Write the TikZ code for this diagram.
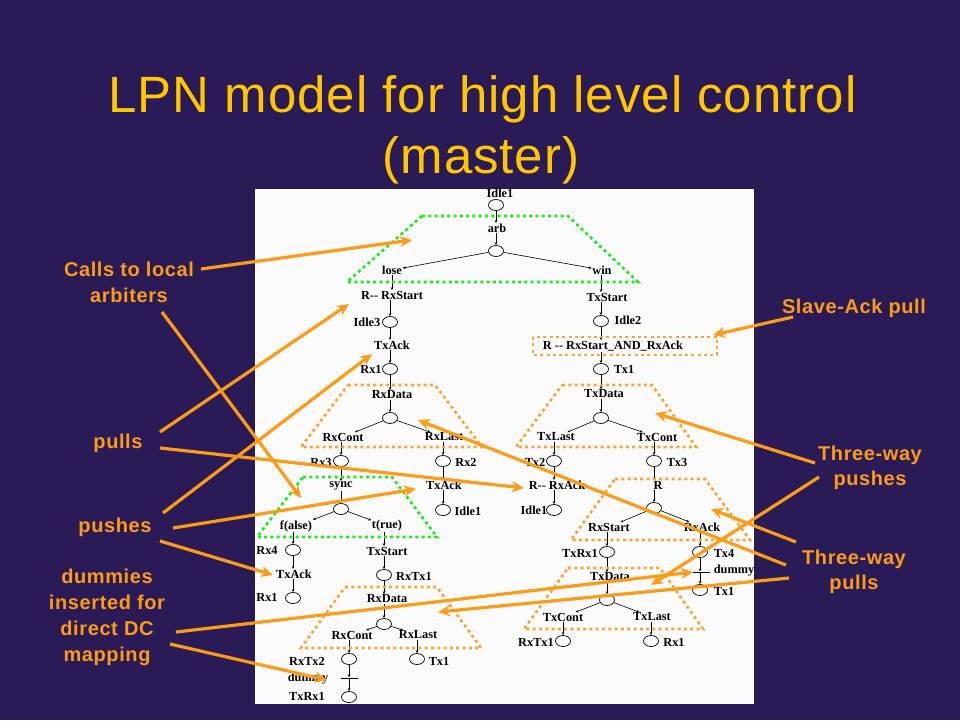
\documentclass[tikz,border=0pt]{standalone}
\usepackage{fontspec}
\setmainfont{Liberation Sans}
\newfontfamily\petri{Liberation Serif}
\newfontfamily\titlefont[LetterSpace=1.9]{Liberation Sans}
\newfontfamily\calloutfont[LetterSpace=3]{Liberation Sans}
\usetikzlibrary{shapes.geometric,arrows.meta}
\definecolor{bgpurple}{HTML}{2A1A55}
\definecolor{paneloff}{HTML}{FAFAFA}
\definecolor{titleyel}{HTML}{FFC602}
\definecolor{callout}{HTML}{FB9C18}
\definecolor{dotgreen}{HTML}{22E822}
\definecolor{dotorange}{HTML}{F5A63A}
\tikzset{
  titletext/.style={font=\titlefont\fontsize{51}{51}\selectfont,text=titleyel,inner sep=0pt,anchor=base},
  calloutlabel/.style={font=\calloutfont\fontsize{20}{20}\selectfont\bfseries,text=callout,inner sep=0pt,align=center},
  placenode/.style={draw=black,ellipse,minimum width=15pt,minimum height=11pt,inner sep=0pt,line width=0.7pt},
  petrilabel/.style={font=\petri\fontsize{12.3}{12.3}\selectfont\bfseries,text=black,inner sep=0.5pt},
  barnode/.style={fill=black,minimum width=17pt,minimum height=0.8pt,inner sep=0pt},
  arc/.style={draw=black,line width=0.6pt,-{Stealth[length=3pt,width=2.5pt]}},
  greenzone/.style={draw=dotgreen,line width=2.7pt,dash pattern=on 3pt off 3.3pt},
  orangezone/.style={draw=dotorange,line width=2.7pt,dash pattern=on 3pt off 3.3pt},
  callarrow/.style={draw=callout,line width=3.2pt,-{Stealth[length=12pt,width=11pt]}}
}
\begin{document}
\begin{tikzpicture}[x=1pt,y=-1pt]
\useasboundingbox (0,0) rectangle (960,720);
\fill[bgpurple] (0,0) rectangle (960,720);
\fill[paneloff] (255,189) rectangle (754,704);

\node[titletext] (title1) at (482.5,112) {LPN model for high level control};
\node[titletext] (title2) at (481,173) {(master)};

% places
\foreach \n/\x/\y in {pa/496/205,pb/496/251,pc/390/322,pd/390/369,pe/390/418,pf/341/461,pg/443/461,ph/443/510,
  pi/341/509,pj/293/550,pk/293/598,pl/384/575,pm/384/624,pn/349/659,po/417/659,pp/349/697,
  qa/601/321,qb/601/369,qc/601/418,qd/554/461,qe/654/461,qf/554/510,qg/654/508,qh/607/552,qi/700/552,qj/700/590,
  qk/607/600,ql/563/641,qm/651/641}
  \node[placenode] (\n) at (\x,\y) {};

% transition and place labels
\foreach \n/\x/\y/\t in {
  la/500/193/Idle1, ta/497/228/arb, tb/392/270/lose, tc/602/270/win, td/392/295/R-- RxStart,
  lc/367/322/Idle3, te/392/345/TxAck, ld/371/369/Rx1, tf/392/395/RxData, tg/343/437/RxCont,
  th/444/437/RxLast, lf/321/462/Rx3, lg/466/462/Rx2, ti/444/485/TxAck, lh/468/511/Idle1,
  tj/341/486/sync, tk/296/526/f(alse), tl/387/526/t(rue), lj/267/550/Rx4, tm/387/551/TxStart,
  tn/294/574/TxAck, lk/267/597/Rx1, ll/414/576/RxTx1, to/387/599/RxData, tp/352/635/RxCont,
  tq/418/635/RxLast, ln/307/661/RxTx2, lo/439/661/Tx1, tr/308/679/dummy, lp/307/696/TxRx1,
  ua/607/297/TxStart, ma/628/320/Idle2, ub/613/346/R -- RxStart\_AND\_RxAck, mb/624/369/Tx1,
  uc/604/394/TxData, ud/556/437/TxLast, ue/657/437/TxCont, md/535/462/Tx2, me/677/462/Tx3,
  uf/557/485/R-- RxAck, ug/658/485/R, mf/534/510/Idle1, uh/609/527/RxStart, ui/702/527/RxAck,
  mh/580/553/TxRx1, mi/724/553/Tx4, uj/734/571/dummy, mj/724/591/Tx1, uk/610/577/TxData,
  ul/563/617/TxCont, um/652/617/TxLast, ml/536/642/RxTx1, mm/674/642/Rx1}
  \node[petrilabel] (\n) at (\x,\y) {\t};

% dummy bars
\node[barnode] (bara) at (349,678) {};
\node[barnode] (barb) at (701,572) {};

% vertical arcs: from / to / column
\foreach \a/\b/\c in {pa/ta/pa,ta/pb/pa,tb/td/tb,td/pc/pc,pc/te/pc,te/pd/pd,pd/tf/pd,tf/pe/pe,
  tg/pf/pf,pf/tj/pf,tj/pi/pi,th/pg/pg,pg/ti/pg,ti/ph/ph,tk/pj/pj,pj/tn/pj,tn/pk/pk,
  tl/tm/pl,tm/pl/pl,pl/to/pl,to/pm/pm,tp/pn/pn,pn/bara/pn,bara/pp/pp,tq/po/po,
  tc/ua/qa,ua/qa/qa,qa/ub/qa,ub/qb/qb,qb/uc/qb,uc/qc/qc,ud/qd/qd,qd/uf/qd,uf/qf/qf,
  ue/qe/qe,qe/ug/qe,ug/qg/qg,uh/qh/qh,qh/uk/qh,uk/qk/qk,ui/qi/qi,qi/barb/qi,barb/qj/qj,
  ul/ql/ql,um/qm/qm}
  \draw[arc] (\c |- \a.south) -- (\c |- \b.north);

% branching arcs
\foreach \a/\b in {pb/tb,pb/tc,pe/tg,pe/th,pi/tk,pi/tl,pm/tp,pm/tq,qc/ud,qc/ue,qg/uh,qg/ui,qk/ul,qk/um}
  \draw[arc] (\a) -- (\b);

% dotted zones
\draw[greenzone] (422,216) -- (568,216) -- (638,282) -- (347,282) -- cycle;
\draw[greenzone] (303,477) -- (392,477) -- (437,537) -- (257,537) -- cycle;
\draw[orangezone] (533,337) rectangle (717,355);
\draw[orangezone] (348,385) -- (435,385) -- (482,447) -- (301,447) -- cycle;
\draw[orangezone] (562,385) -- (652,385) -- (696,447) -- (516,447) -- cycle;
\draw[orangezone] (615,479) -- (705,479) -- (750,540) -- (571,540) -- cycle;
\draw[orangezone] (345,587) -- (437,587) -- (481,648) -- (301,648) -- cycle;
\draw[orangezone] (568,568) -- (660,568) -- (703,629) -- (524,629) -- cycle;

% callout labels
\node[calloutlabel] (calls) at (129,282.5) {Calls to local\\[5.5pt]arbiters};
\node[calloutlabel] (pulls) at (118,443.5) {pulls};
\node[calloutlabel] (pushes) at (115,527.5) {pushes};
\node[calloutlabel] (dummies) at (107,617) {dummies\\[6pt]inserted for\\[6pt]direct DC\\[6pt]mapping};
\node[calloutlabel] (slave) at (854,308.5) {Slave-Ack pull};
\node[calloutlabel] (tpush) at (870,467.5) {Three-way\\[5pt]pushes};
\node[calloutlabel] (tpull) at (854,571.5) {Three-way\\[5pt]pulls};

% callout connectors: free ends as named coordinates
\foreach \n/\sx/\sy/\ex/\ey in {
  ca/201/269/412/240, cb/162/312/301/498,
  pa/160/432/349/304, pb/160/448/524/488,
  sa/163/513/372/354, sb/173/528/416/489, sc/160/541/273/575,
  da/176/632/693/572, db/170/644/327/680,
  ea/793/317/713/335,
  fa/815/463/655/413, fb/819/477/651/585,
  ga/796/542/711/509, gb/786/565/418/420, gc/789/578/438/612}{
  \coordinate (\n from) at (\sx,\sy);
  \coordinate (\n to) at (\ex,\ey);
  \draw[callarrow] (\n from) -- (\n to);
}
\end{tikzpicture}
\end{document}
